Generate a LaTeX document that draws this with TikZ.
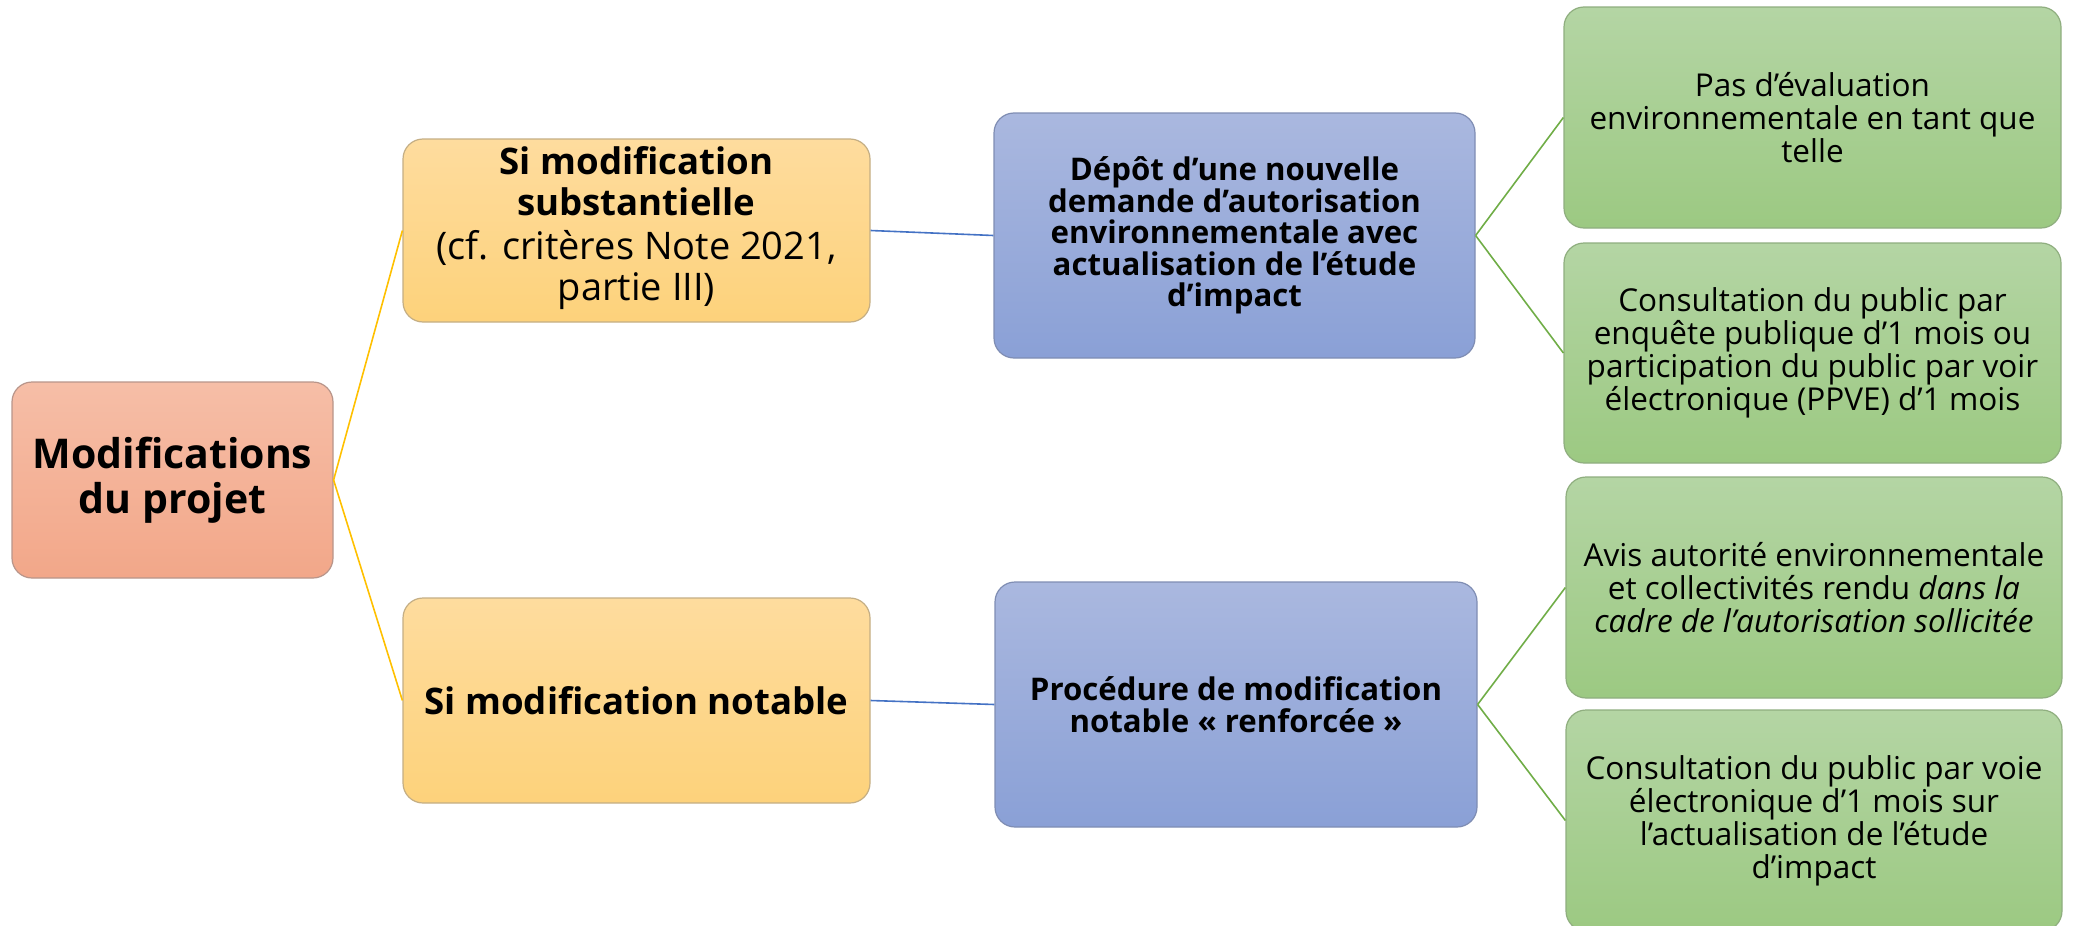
\documentclass[tikz,border=0pt]{standalone}
\usepackage{fontspec}
\setmainfont{Open Sans}

\definecolor{rootTop}{HTML}{F6BEA7}
\definecolor{rootBot}{HTML}{F2A789}
\definecolor{rootLine}{HTML}{B8958A}
\definecolor{yelTop}{HTML}{FEDC9E}
\definecolor{yelBot}{HTML}{FDD27B}
\definecolor{yelLine}{HTML}{C4AE84}
\definecolor{bluTop}{HTML}{AAB8DF}
\definecolor{bluBot}{HTML}{8AA0D6}
\definecolor{bluLine}{HTML}{7F8DB3}
\definecolor{grnTop}{HTML}{B4D5A4}
\definecolor{grnBot}{HTML}{9CC982}
\definecolor{grnLine}{HTML}{8FAE7F}
\definecolor{edgeGold}{HTML}{FFC000}
\definecolor{edgeBlue}{HTML}{4472C4}
\definecolor{edgeGreen}{HTML}{70AD47}

\newcommand\headbold[1]{{\bfseries\fontsize{18.3}{20}\selectfont #1}}

\tikzset{
  box/.style={rounded corners=10pt, draw, line width=0.6pt, align=center,
    inner sep=0pt, anchor=center, text=black},
  rootbox/.style={box, draw=rootLine, top color=rootTop, bottom color=rootBot,
    minimum width=160.5pt, minimum height=98pt,
    font=\bfseries\fontsize{20.5}{22.5}\selectfont},
  yelbox/.style={box, draw=yelLine, top color=yelTop, bottom color=yelBot,
    minimum width=233.5pt, font=\fontsize{19}{20.3}\selectfont},
  blubox/.style={box, draw=bluLine, top color=bluTop, bottom color=bluBot,
    minimum width=240.5pt, minimum height=122.5pt,
    font=\bfseries\fontsize{15.6}{15.8}\selectfont},
  grnbox/.style={box, draw=grnLine, top color=grnTop, bottom color=grnBot,
    minimum width=248.5pt, minimum height=110.5pt,
    font=\fontsize{15.75}{16.5}\selectfont},
  link/.style={line width=0.8pt},
}

\begin{document}
\begin{tikzpicture}[x=0.5pt, y=-0.5pt]
  \useasboundingbox (0,0) rectangle (2074,926);

  % root
  \node[rootbox] (root) at (172.5,480) {Modifications\\du projet};

  % second level
  \node[yelbox, minimum height=91.5pt] (subst) at (636.5,230.5) {};
  \node[align=center, inner sep=0pt, font=\fontsize{19}{20.3}\selectfont]
    (substtext) at (636.5,228)
    {\headbold{Si modification}\\\headbold{substantielle}\\[2pt]
     (cf. critères Note 2021,\\partie III)};
  \node[yelbox, minimum height=102.5pt] (notab) at (636.5,700.5)
    {\headbold{Si modification notable}};

  % third level
  \node[blubox] (depot) at (1234.5,235.5)
    {Dépôt d’une nouvelle\\demande d’autorisation\\environnementale avec\\actualisation de l’étude\\d’impact};
  \node[blubox, minimum width=241pt] (proc) at (1236,704.5)
    {Procédure de modification\\notable « renforcée »};

  % fourth level
  \node[grnbox] (pas) at (1812.5,117.5)
    {Pas d’évaluation\\environnementale en tant que\\telle};
  \node[grnbox, minimum height=110pt] (enq) at (1812.5,353)
    {Consultation du public par\\enquête publique d’1 mois ou\\participation du public par voir\\électronique (PPVE) d’1 mois};
  \node[grnbox, minimum width=248pt] (avis) at (1814,587.5)
    {Avis autorité environnementale\\et collectivités rendu \textit{dans la}\\\textit{cadre de l’autorisation sollicitée}};
  \node[grnbox, minimum width=248pt] (ppve) at (1814,820.5)
    {Consultation du public par voie\\électronique d’1 mois sur\\l’actualisation de l’étude\\d’impact};

  % connectors
  \draw[link, edgeGold] (root.east) -- (subst.west);
  \draw[link, edgeGold] (root.east) -- (notab.west);
  \draw[link, edgeBlue] (subst.east) -- (depot.west);
  \draw[link, edgeBlue] (notab.east) -- (proc.west);
  \draw[link, edgeGreen] (depot.east) -- (pas.west);
  \draw[link, edgeGreen] (depot.east) -- (enq.west);
  \draw[link, edgeGreen] (proc.east) -- (avis.west);
  \draw[link, edgeGreen] (proc.east) -- (ppve.west);
\end{tikzpicture}
\end{document}
